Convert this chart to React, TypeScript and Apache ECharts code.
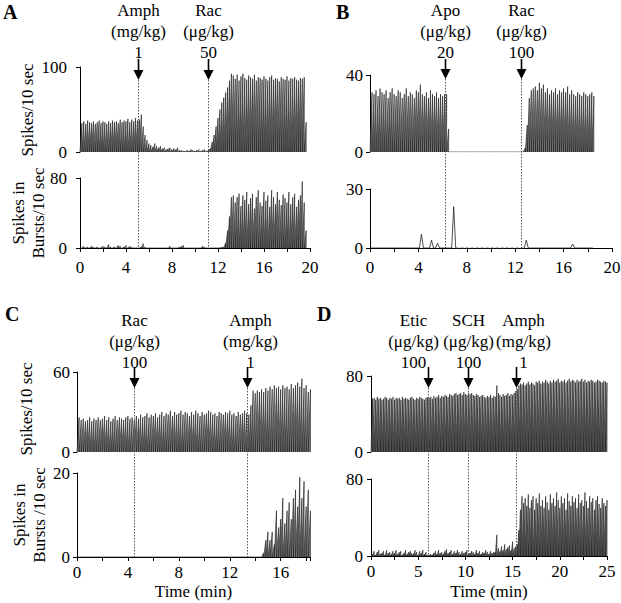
import React, { useEffect, useRef } from 'react';
import * as echarts from 'echarts';

// one bin = 10 s = 1/6 min
const BIN_MIN = 1 / 6;

// ---------- Panel A ----------
const aSpikes = [
  34, 36, 33, 37, 35, 34, 36, 33, 35, 37, 34, 36, 35, 33, 36, 34, 37, 35, 36, 34,
  38, 35, 37, 36, 39, 35, 38, 36, 40, 37,
  38, 44, 30, 20, 14, 10, 8, 6, 10, 7, 5, 7, 4, 5, 3, 4, 5, 3, 4, 3,
  5, 2, 2, 1, 1, 2, 1, 3, 2, 1, 2, 3, 1, 2, 3, 1, 2,
  4, 12, 20, 30, 40, 50, 58, 64, 70, 76, 84, 92,
  90, 86, 91, 84, 89, 92, 87, 85, 90, 88, 86, 91, 84, 88, 87, 85, 89, 86, 84, 88,
  90, 85, 87, 86, 83, 88, 86, 85, 89, 84, 87, 86, 88, 85, 84, 87, 86, 88, 35,
];
const aBursts = [
  0, 2, 0, 1, 0, 2, 1, 0, 1, 0, 0, 2, 1, 0, 4, 1, 0, 1, 0, 3, 2, 0, 1, 3, 0, 2, 1, 0, 0, 0,
  0, 1, 5, 1, 0, 0, 0, 0, 0, 0, 0, 0, 0, 0, 0, 0, 2, 0, 0, 0, 0, 1, 2, 3, 0, 0, 0, 0, 0, 0,
  0, 0, 0, 2, 1, 0, 0, 0, 0, 0, 0, 0, 0, 1,
  1, 6, 20, 36, 58, 60, 52, 58, 62, 48, 60, 55, 64, 50, 57, 62, 45, 58, 66, 52,
  48, 64, 54, 60, 47, 66, 58, 50, 64, 55, 49, 61, 57, 52, 64, 50, 58, 62, 47, 55,
  60, 76, 52, 20,
];
const aDrugNames = ['Amph', 'Rac'];
const aDrugUnits = ['(mg/kg)', '(μg/kg)'];
const aDrugDoses = ['1', '50'];
const aDrugTimes = [5.07, 11.1];

// ---------- Panel B ----------
const bSpikes = [
  31, 30, 32, 29, 33, 31, 30, 32, 28, 31, 33, 30, 29, 32, 31, 28, 30, 33, 29, 31,
  30, 28, 32, 31, 35, 30, 29, 31, 28, 32, 30, 29, 31, 28, 30, 29, 30,
  30, 12,
  0, 0, 0, 0, 0, 0, 0, 0, 0, 0, 0, 0, 0, 0, 0, 0, 0, 0, 0, 0,
  0, 0, 0, 0, 0, 0, 0, 0, 0, 0, 0, 0, 0, 0, 0, 0, 0,
  2, 14, 28, 32, 33, 34, 32, 36, 33, 35, 31, 33, 30, 32, 31, 33, 30, 32, 31, 33,
  31, 34, 30, 32, 30, 29, 31, 30, 29, 31, 30, 29, 30, 31, 29,
];
// bursts before the silent period (from bin 0) and after it (from bin 76)
const bBurstsPre = [
  0, 0, 0, 0, 0, 0, 0, 0, 0, 0, 0, 0, 0, 0, 0, 0, 0, 0, 0, 0,
  0, 0, 0, 0, 0, 7, 0, 0, 0, 0, 4, 0, 0, 2.5, 0, 0, 0, 0, 0, 0,
  0, 21, 0,
];
const bBurstsPostStartBin = 76;
const bBurstsPost = [
  0, 4, 0, 0, 0, 0, 0, 0, 0, 0, 0, 0, 0, 0, 0, 0, 0, 0, 0, 0,
  0, 0, 0, 0, 2, 0, 0, 0, 0, 0, 0, 0, 0, 0, 0,
];
const bDrugNames = ['Apo', 'Rac'];
const bDrugUnits = ['(μg/kg)', '(μg/kg)'];
const bDrugDoses = ['20', '100'];
const bDrugTimes = [6.2, 12.5];

// ---------- Panel C ----------
const cSpikes = [
  26, 24, 25, 23, 24, 26, 23, 25, 24, 26, 24, 25, 27, 24, 26, 23, 25, 27, 24, 26,
  25, 24, 26, 27, 25, 26, 24,
  27, 25, 28, 26, 27, 29, 26, 28, 27, 29, 26, 28, 30, 27, 29, 28, 31, 27, 30, 28,
  29, 31, 28, 30, 29, 27, 30, 28, 31, 29, 27, 30, 28, 29, 31, 30, 28, 29, 27, 30,
  29, 28, 30, 29, 31, 28, 29, 27, 30, 28, 29, 31, 29,
  28, 35, 46, 44, 46, 45, 47, 45, 48, 46, 49, 47, 50, 48, 49, 47, 50, 48, 49, 47,
  51, 48, 50, 52, 49, 55, 48, 50, 45, 47,
];
const cBursts = [
  0, 0, 0, 0, 0, 0, 0, 0, 0, 0, 0, 0, 0, 0, 0, 0, 0, 0, 0, 0,
  0, 0, 0, 0, 0, 0, 0, 0, 0, 0, 0, 0, 0, 0, 0, 0, 0, 0, 0, 0,
  0, 0, 0, 0, 0, 0, 0, 0, 0, 0, 0, 0, 0, 0, 0, 0, 0, 0, 0, 0,
  0, 0, 0, 0, 0, 0, 0, 0, 0, 0, 0, 0, 0, 0, 0, 0, 0, 0, 0, 0,
  0, 0, 0, 0, 0, 0, 0,
  1, 4, 6, 4, 6, 3, 11, 7, 9, 14, 8, 11, 13, 9, 14, 16, 12, 19, 14, 18, 12, 16, 11,
];
const cDrugNames = ['Rac', 'Amph'];
const cDrugUnits = ['(μg/kg)', '(mg/kg)'];
const cDrugDoses = ['100', '1'];
const cDrugTimes = [4.47, 13.35];

// ---------- Panel D ----------
const dSpikes = [
  56, 57, 55, 58, 56, 57, 55, 56, 58, 57, 55, 57, 56, 58, 55, 57, 56, 57, 55, 58,
  56, 57, 56, 55, 57, 58, 56, 55, 57, 56, 58, 57, 56, 55, 57, 58,
  57, 58, 56, 59, 57, 58, 60, 57, 59, 58, 60, 59, 58, 61, 60, 59, 61, 62, 60, 61,
  62, 60, 63, 61, 60, 62,
  61, 62, 60, 59, 61, 60, 58, 59, 60, 58, 57, 59, 58, 60, 57, 59, 58, 70, 62, 60,
  58, 61, 59, 60, 62, 59, 61, 60, 62, 64,
  66, 70, 72, 71, 73, 70, 72, 74, 71, 73, 72, 70, 74, 73, 75, 72, 74, 73, 76, 74,
  72, 75, 73, 76, 74, 75, 77, 73, 75, 74, 76, 73, 75, 77, 74, 76, 75, 73, 76, 74,
  75, 77, 74, 76, 73, 75, 74, 76, 75, 73, 74, 76, 75, 74, 73, 75, 74, 73,
];
const dBursts = [
  2, 5, 1, 4, 6, 2, 3, 5, 1, 6, 3, 4, 2, 5, 3, 6, 2, 4, 5, 1,
  3, 6, 2, 4, 5, 3, 2, 6, 4, 1, 5, 3, 6, 2, 4, 1,
  1, 2, 1, 3, 5, 2, 6, 3, 4, 2, 5, 7, 3, 4, 6, 2, 5, 3, 6, 4,
  2, 5, 3, 4, 6, 2, 3, 5, 4, 2, 6, 3, 5, 2, 4, 3, 6, 4, 2, 5, 3, 4,
  4, 22, 8, 5, 10, 6, 12, 7, 9, 11, 6, 15, 8, 10, 12,
  27, 48, 62, 55, 60, 52, 64, 50, 58, 62, 48, 60, 55, 65, 52, 58, 50, 62, 56, 48,
  64, 55, 60, 52, 66, 58, 50, 62, 55, 60, 48, 65, 57, 52, 62, 56, 60, 50, 64, 55,
  58, 52, 66, 57, 50, 62, 56, 60, 48, 58, 62, 54, 50, 60, 55, 52, 58,
];
const dDrugNames = ['Etic', 'SCH', 'Amph'];
const dDrugUnits = ['(μg/kg)', '(μg/kg)', '(mg/kg)'];
const dDrugDoses = ['100', '100', '1'];
const dDrugTimes = [6.0, 10.3, 15.4];

// ---------- layout ----------
const FONT = "'Liberation Serif', 'Times New Roman', Times, serif";
const FS = 17;

type Panel = {
  letter: string; letterPos: number[];
  xMax: number; xTick: number; xLabelEvery: number;
  topRect: number[]; topMax: number;
  botRect: number[]; botMax: number;
  yOffset: number; xOffset: number;
  textTop: number; stemTop: number; tipY: number;
  labelDx: number[];
  names: string[]; units: string[]; doses: string[]; times: number[];
  topTitle?: string; topTitlePos?: number[];
  botTitle?: string; botTitlePos?: number[];
  xName?: string; xNameGap?: number;
};

const panels: Panel[] = [
  {
    letter: 'A', letterPos: [3, 2], xMax: 20, xTick: 2, xLabelEvery: 4,
    topRect: [80, 67, 230, 85], topMax: 100, botRect: [80, 178, 230, 70], botMax: 80,
    yOffset: 7, xOffset: 6, textTop: 0, stemTop: 59, tipY: 80, labelDx: [0, 0],
    names: aDrugNames, units: aDrugUnits, doses: aDrugDoses, times: aDrugTimes,
    topTitle: 'Spikes/10 sec', topTitlePos: [27, 110],
    botTitle: 'Spikes in\nBursts/10 sec', botTitlePos: [28, 213],
  },
  {
    letter: 'B', letterPos: [336, 2], xMax: 20, xTick: 2, xLabelEvery: 4,
    topRect: [370, 75, 242, 77], topMax: 40, botRect: [370, 189, 242, 59], botMax: 30,
    yOffset: 1, xOffset: 6, textTop: 0, stemTop: 59, tipY: 79, labelDx: [0, 0],
    names: bDrugNames, units: bDrugUnits, doses: bDrugDoses, times: bDrugTimes,
  },
  {
    letter: 'C', letterPos: [5, 304], xMax: 18.3, xTick: 2, xLabelEvery: 4,
    topRect: [77, 372, 233, 80], topMax: 60, botRect: [77, 473, 233, 84], botMax: 20,
    yOffset: 1, xOffset: 2, textTop: 310, stemTop: 367, tipY: 388, labelDx: [0, 3],
    names: cDrugNames, units: cDrugUnits, doses: cDrugDoses, times: cDrugTimes,
    topTitle: 'Spikes/10 sec', topTitlePos: [26, 409],
    botTitle: 'Spikes in\nBursts /10 sec', botTitlePos: [29, 515],
    xName: 'Time (min)', xNameGap: 24,
  },
  {
    letter: 'D', letterPos: [317, 304], xMax: 25, xTick: 2.5, xLabelEvery: 5,
    topRect: [371, 376, 236, 76], topMax: 80, botRect: [371, 479, 236, 77], botMax: 80,
    yOffset: 2, xOffset: 2, textTop: 310, stemTop: 367, tipY: 388, labelDx: [-15, 0, 7],
    names: dDrugNames, units: dDrugUnits, doses: dDrugDoses, times: dDrugTimes,
    xName: 'Time (min)', xNameGap: 25,
  },
];

const panelSpikes = [aSpikes, bSpikes, cSpikes, dSpikes];
const panelBursts = [aBursts, null, cBursts, dBursts];

function sawtooth(values: number[]) {
  const pts: number[][] = [];
  values.forEach((v, i) => {
    pts.push([i * BIN_MIN, 0]);
    pts.push([(i + 1) * BIN_MIN, v]);
  });
  pts.push([values.length * BIN_MIN, 0]);
  return pts;
}
function centers(values: number[], startBin: number) {
  return values.map((v, i) => [(startBin + i + 0.5) * BIN_MIN, v]);
}

const sawStyle = {
  type: 'line', showSymbol: false, symbol: 'none', silent: true,
  lineStyle: { color: '#151515', width: 0.6 },
  areaStyle: { color: '#7c7c7c', opacity: 1 },
};

export default function App() {
  const ref = useRef<HTMLDivElement>(null);
  useEffect(() => {
    const chart = echarts.init(ref.current!, null, { renderer: 'svg' });
    const grid: any[] = [];
    const xAxis: any[] = [];
    const yAxis: any[] = [];
    const series: any[] = [];
    const axisLine = { show: true, lineStyle: { color: '#000', width: 1 } };
    const tick = { show: true, length: 4, inside: false, lineStyle: { color: '#000', width: 1 } };
    const lbl = { color: '#000', fontFamily: FONT, fontSize: FS };

    panels.forEach((p, pi) => {
      [0, 1].forEach((k) => {
        const r = k === 0 ? p.topRect : p.botRect;
        const ymax = k === 0 ? p.topMax : p.botMax;
        grid.push({ left: r[0], top: r[1], width: r[2], height: r[3], containLabel: false, outerBoundsMode: 'none' });
        xAxis.push({
          gridIndex: grid.length - 1, type: 'value', min: 0, max: p.xMax, interval: p.xTick,
          show: k === 1, offset: p.xOffset, axisLine, axisTick: tick, splitLine: { show: false },
          axisLabel: {
            ...lbl, margin: 5, showMaxLabel: true,
            formatter: (v: number) => (Math.abs(v / p.xLabelEvery - Math.round(v / p.xLabelEvery)) < 1e-6 ? String(v) : ''),
          },
          name: k === 1 ? p.xName : undefined, nameLocation: 'middle', nameGap: p.xNameGap,
          nameTextStyle: { ...lbl },
        });
        yAxis.push({
          gridIndex: grid.length - 1, type: 'value', min: 0, max: ymax, interval: ymax,
          offset: p.yOffset, axisLine, axisTick: tick, splitLine: { show: false },
          axisLabel: { ...lbl, margin: 6 },
        });
      });
      const gTop = pi * 2, gBot = pi * 2 + 1;
      series.push({ ...sawStyle, xAxisIndex: gTop, yAxisIndex: gTop, data: sawtooth(panelSpikes[pi]) });
      const bursts = panelBursts[pi];
      if (bursts) {
        series.push({ ...sawStyle, xAxisIndex: gBot, yAxisIndex: gBot, data: sawtooth(bursts) });
      } else {
        const pre = centers(bBurstsPre, 0);
        const post = centers(bBurstsPost, bBurstsPostStartBin);
        const thin = { type: 'line', showSymbol: false, symbol: 'none', silent: true, xAxisIndex: gBot, yAxisIndex: gBot };
        series.push({ ...thin, data: pre, lineStyle: { color: '#222', width: 0.8 } });
        series.push({ ...thin, data: post, lineStyle: { color: '#222', width: 0.8 } });
        series.push({
          ...thin, data: [[pre[pre.length - 1][0], 0], [post[0][0], 0]],
          lineStyle: { color: '#666', width: 1, type: [3, 2] },
        });
      }
    });

    chart.setOption({ animation: false, textStyle: { fontFamily: FONT }, grid, xAxis, yAxis, series });

    const graphic: any[] = [];
    panels.forEach((p, pi) => {
      const gTop = pi * 2, gBot = pi * 2 + 1;
      graphic.push({
        type: 'text', x: p.letterPos[0], y: p.letterPos[1], z: 100,
        style: { text: p.letter, fontFamily: FONT, fontSize: 20, fontWeight: 'bold', fill: '#000', textVerticalAlign: 'top' },
      });
      p.times.forEach((t, i) => {
        const px = chart.convertToPixel({ gridIndex: gTop } as any, [t, 0]) as number[];
        const pb = chart.convertToPixel({ gridIndex: gBot } as any, [t, 0]) as number[];
        const x = Math.round(px[0]) + 0.5;
        graphic.push({
          type: 'line', z: 100, silent: true,
          shape: { x1: x, y1: p.tipY, x2: x, y2: pb[1] },
          style: { stroke: '#555', lineWidth: 1, lineDash: [1.5, 1.5] },
        });
        graphic.push({
          type: 'line', z: 101, silent: true,
          shape: { x1: x, y1: p.stemTop, x2: x, y2: p.tipY - 8 },
          style: { stroke: '#000', lineWidth: 1.6 },
        });
        graphic.push({
          type: 'polygon', z: 101, silent: true,
          shape: { points: [[x - 5, p.tipY - 10], [x + 5, p.tipY - 10], [x, p.tipY]] },
          style: { fill: '#000' },
        });
        graphic.push({
          type: 'text', z: 101, silent: true, x: x + p.labelDx[i], y: p.textTop,
          style: {
            text: `${p.names[i]}\n${p.units[i]}\n${p.doses[i]}`, fontFamily: FONT, fontSize: FS,
            lineHeight: 21, fill: '#000', textAlign: 'center', textVerticalAlign: 'top',
          },
        });
      });
      if (p.topTitle && p.topTitlePos) {
        graphic.push({
          type: 'text', z: 101, silent: true, x: p.topTitlePos[0], y: p.topTitlePos[1], rotation: Math.PI / 2,
          style: { text: p.topTitle, fontFamily: FONT, fontSize: FS, fill: '#000', textAlign: 'center', textVerticalAlign: 'middle' },
        });
      }
      if (p.botTitle && p.botTitlePos) {
        graphic.push({
          type: 'text', z: 101, silent: true, x: p.botTitlePos[0], y: p.botTitlePos[1], rotation: Math.PI / 2,
          style: { text: p.botTitle, fontFamily: FONT, fontSize: FS, lineHeight: 20, fill: '#000', textAlign: 'center', textVerticalAlign: 'middle' },
        });
      }
    });
    chart.setOption({ graphic });
    return () => chart.dispose();
  }, []);
  return <div ref={ref} style={{ position: 'absolute', left: 0, top: 0, width: 621, height: 603, background: '#fff' }} />;
}
